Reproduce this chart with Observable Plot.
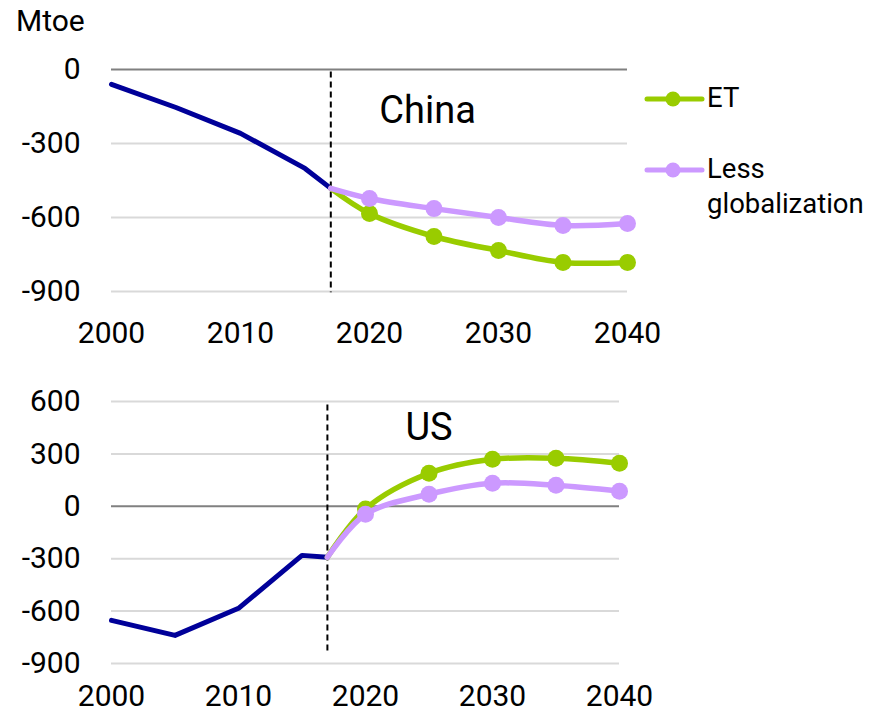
<!DOCTYPE html>
<html><head><meta charset="utf-8">
<script src="https://cdn.jsdelivr.net/npm/d3@7"></script>
<script src="https://cdn.jsdelivr.net/npm/@observablehq/plot@0.6"></script>
<style>
body{margin:0;background:#fff;font-family:Roboto,"Noto Sans",sans-serif;color:#000;}
#wrap{position:relative;width:873px;height:716px;overflow:hidden;background:#fff;}
#unit{position:absolute;left:16px;top:6px;font-size:30px;line-height:30px;}
#top{position:absolute;left:0;top:0;}
#bot{position:absolute;left:0;top:355px;}
#legend{position:absolute;left:640px;top:70px;}
</style></head><body>
<div id="wrap"><div id="top"></div><div id="bot"></div><div id="unit">Mtoe</div><div id="legend"></div></div>
<script>
// ---- data ----
const histYears = [2000, 2005, 2010, 2015, 2017];
const chinaHist = [-60, -154, -259, -401, -482];
const usHist = [-653, -739, -584, -281, -292];
const projYears = [2017, 2020, 2025, 2030, 2035, 2040];
const chinaET = [-482, -584, -677, -734, -782, -782];
const chinaLG = [-482, -523, -564, -600, -632, -624];
const usET = [-292, -15, 189, 269, 275, 246];
const usLG = [-292, -46, 69, 132, 120, 86];
const xTicks = [2000, 2010, 2020, 2030, 2040];
const chinaTicks = [0, -300, -600, -900];
const usTicks = [600, 300, 0, -300, -600, -900];
const dividerYear = [2017];
const seriesNames = ["ET", "Less globalization"];
const colors = {hist: "#000099", ET: "#99cc00", LG: "#cc99ff"};

const toRows = (xs, ys) => xs.map((x, i) => ({x, y: ys[i]}));

function panel(o) {
  const hist = toRows(histYears, o.hist);
  const et = toRows(projYears, o.et);
  const lg = toRows(projYears, o.lg);
  return Plot.plot({
    width: 873, height: o.height,
    marginLeft: 111, marginRight: o.marginRight, marginTop: o.marginTop, marginBottom: o.marginBottom,
    x: {domain: [2000, 2040], label: null},
    y: {domain: o.domain, label: null},
    style: {fontFamily: "Roboto, 'Noto Sans', sans-serif", fontSize: "30px", color: "#000", background: "transparent", overflow: "visible"},
    marks: [
      Plot.ruleY(o.ticks.filter(d => d !== 0), {stroke: "#d9d9d9", strokeWidth: 2}),
      Plot.ruleY([0], {stroke: "#808080", strokeWidth: 2}),
      Plot.axisX({ticks: xTicks, tickSize: 0, tickPadding: o.xPad, tickFormat: d => String(d), fontSize: 30, label: null}),
      Plot.axisY({ticks: o.ticks, tickSize: 0, tickPadding: 31, tickFormat: d => String(d), fontSize: 30, label: null}),
      Plot.ruleX(dividerYear, {y1: o.rule[0], y2: o.rule[1], stroke: "#000", strokeWidth: 2, strokeDasharray: "6,4"}),
      Plot.line(hist, {x: "x", y: "y", stroke: colors.hist, strokeWidth: 5}),
      Plot.line(et, {x: "x", y: "y", stroke: colors.ET, strokeWidth: 5.5, curve: "catmull-rom"}),
      Plot.dot(et.slice(1), {x: "x", y: "y", r: 8.5, fill: colors.ET}),
      Plot.line(lg, {x: "x", y: "y", stroke: colors.LG, strokeWidth: 5.5, curve: "catmull-rom"}),
      Plot.dot(lg.slice(1), {x: "x", y: "y", r: 8.5, fill: colors.LG}),
      Plot.text([o.label], {x: o.labelAt[0], y: o.labelAt[1], text: d => d, fontSize: 38, fill: "#000"})
    ]
  });
}

document.getElementById("top").append(panel({
  hist: chinaHist, et: chinaET, lg: chinaLG,
  height: 355, marginTop: 69, marginBottom: 64, marginRight: 246,
  domain: [-900, 0], ticks: chinaTicks, xPad: 30, rule: [-10, -905],
  label: "China", labelAt: [2024.5, -166]
}));

document.getElementById("bot").append(panel({
  hist: usHist, et: usET, lg: usLG,
  height: 361, marginTop: 46, marginBottom: 53, marginRight: 254,
  domain: [-900, 600], ticks: usTicks, xPad: 21, rule: [580, -845],
  label: "US", labelAt: [2025, 447]
}));

// ---- legend ----
const lg = d3.select("#legend").append("svg").attr("width", 233).attr("height", 160)
  .style("font-family", "Roboto, 'Noto Sans', sans-serif");
const items = [
  {name: seriesNames[0], color: colors.ET, y: 29, lines: [seriesNames[0]], base: 37},
  {name: seriesNames[1], color: colors.LG, y: 100, lines: ["Less", "globalization"], base: 108}
];
items.forEach(it => {
  lg.append("line").attr("x1", 7).attr("x2", 62).attr("y1", it.y).attr("y2", it.y)
    .attr("stroke", it.color).attr("stroke-width", 5).attr("stroke-linecap", "round");
  lg.append("circle").attr("cx", 33).attr("cy", it.y).attr("r", 7.5).attr("fill", it.color);
  it.lines.forEach((t, i) => {
    lg.append("text").attr("x", 67).attr("y", it.base + i * 35).attr("font-size", 27.5).attr("fill", "#000").text(t);
  });
});
</script>
</body></html>
